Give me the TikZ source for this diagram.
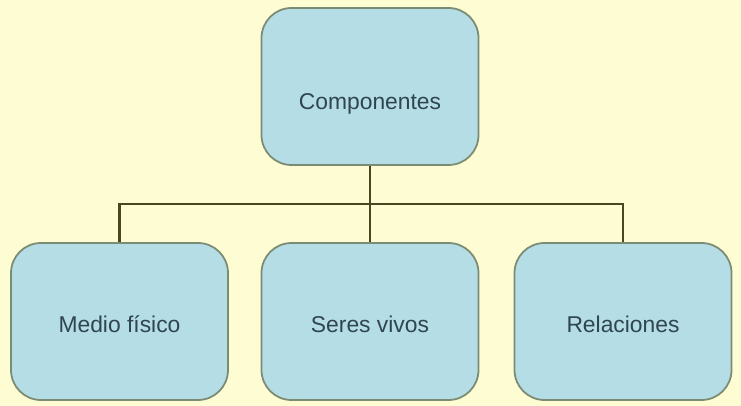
\documentclass[tikz,border=0pt]{standalone}
\usepackage{fontspec}
\setmainfont{Liberation Sans}
\usepackage{tikz}

\definecolor{paper}{HTML}{FEFCD2}
\definecolor{boxfill}{HTML}{B5DDE5}
\definecolor{boxline}{HTML}{7C8B74}
\definecolor{wire}{HTML}{4A4622}
\definecolor{ink}{HTML}{2F4550}

\begin{document}
\begin{tikzpicture}[auto,
  comp/.style={draw=boxline, line width=1pt, fill=boxfill, rounded corners=0.6cm,
    minimum width=4.34cm, minimum height=3.14cm, text=ink, text height=0.45cm,
    font=\fontsize{13}{15}\selectfont}]

\fill[paper] (0,0) rectangle (14.82,8.12);

\node[comp, text height=1cm] (top) at (7.4,6.39) {Componentes};

\node[comp] (medio) at (2.39,1.69) {Medio físico};
\node[comp] (seres) at (7.4,1.69) {Seres vivos};
\node[comp] (rel) at (12.46,1.69) {Relaciones};

\coordinate (split) at (7.4,4.04);

\draw[wire, line width=1.2pt] (top) -- (seres);
\draw[wire, line width=1.2pt] (medio.north) |- (split) -| (rel.north);

\end{tikzpicture}
\end{document}
